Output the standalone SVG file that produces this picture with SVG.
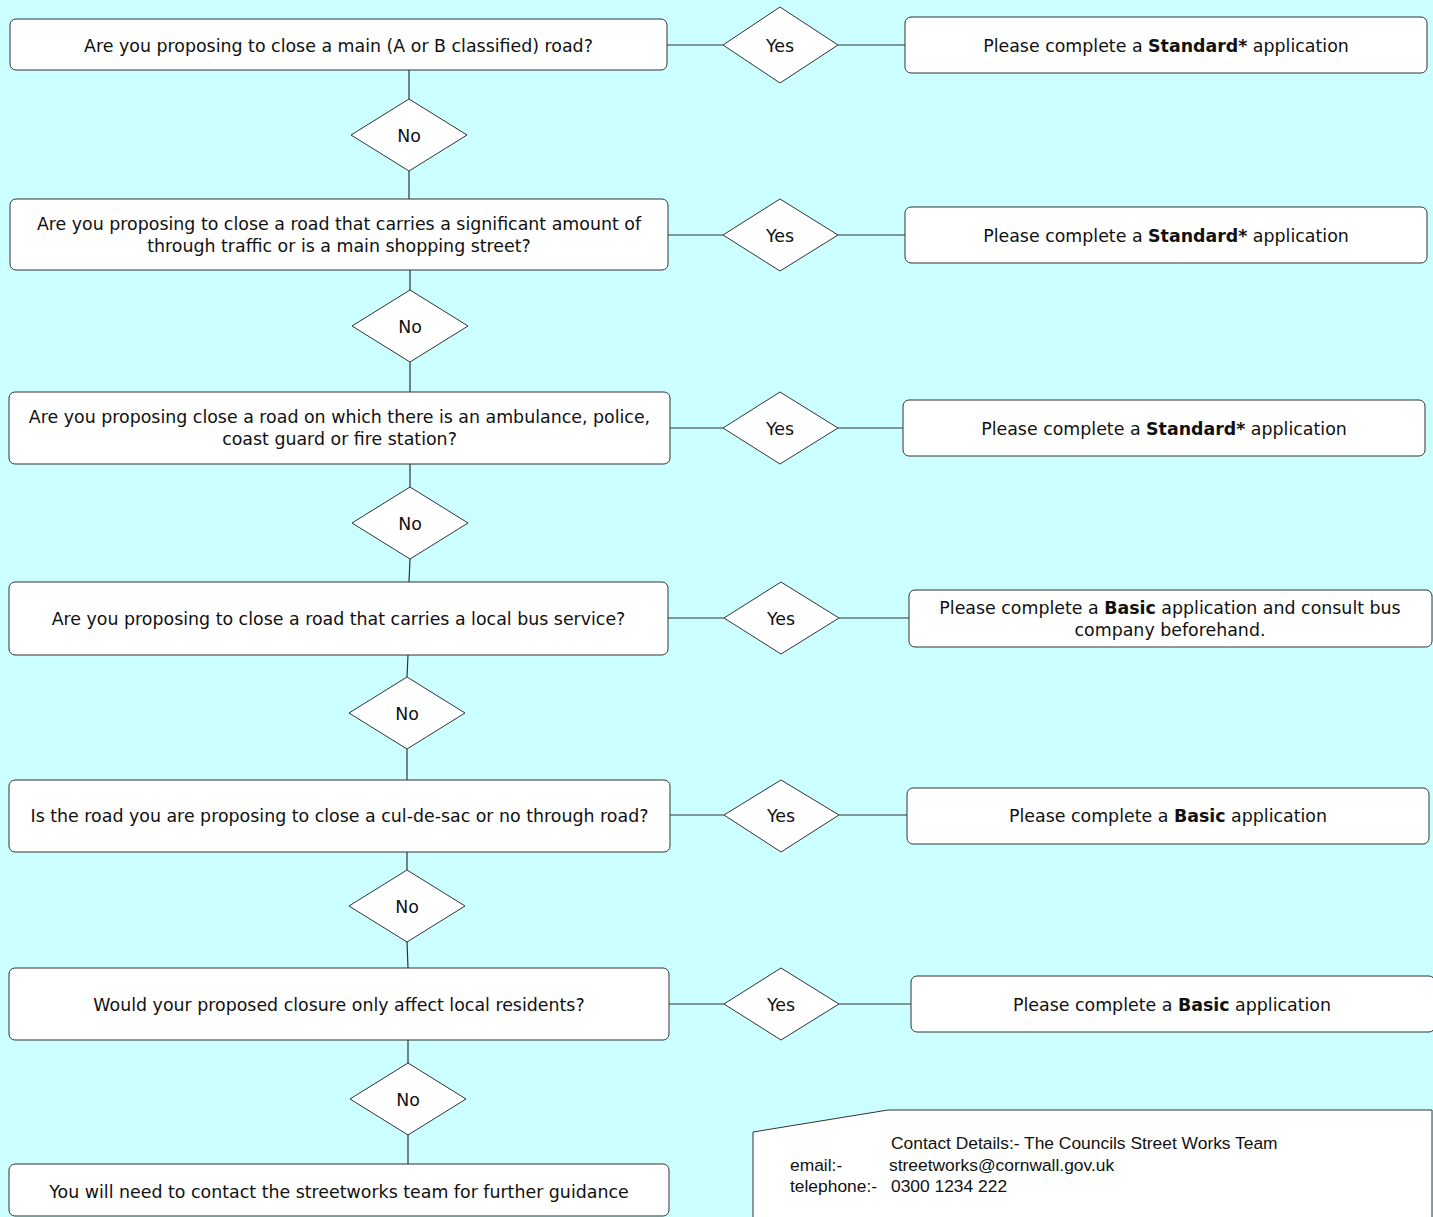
<svg xmlns="http://www.w3.org/2000/svg" width="1433" height="1217" viewBox="0 0 1433 1217">
<style>
.bg{fill:#CCFFFF}
.box{fill:#FFFFFF;stroke:#333333;stroke-width:1}
.dia{fill:#FFFFFF;stroke:#333333;stroke-width:1}
.ln{stroke:#333333;stroke-width:1.2;fill:none}
.t{font-family:"DejaVu Sans",Verdana,sans-serif;font-size:17.4px;fill:#111111;text-anchor:middle}
.b{font-weight:bold}
.c{font-family:"Liberation Sans",Arial,sans-serif;font-size:17.4px;fill:#111111}
</style>
<rect class="bg" x="0" y="0" width="1433" height="1217"/>
<g id="connectors">
<path class="ln" d="M667,45H723M838,45H905M409,70V99M409,171V199"/>
<path class="ln" d="M668,235H723M838,235H905M410,270V290M410,362V392"/>
<path class="ln" d="M670,428H723M838,428H903M410,464V487M410,559L409,582"/>
<path class="ln" d="M668,618H724M839,618H909M408,655L407,677M407,749V780"/>
<path class="ln" d="M670,815H724M839,815H907M407,852V870M407,942L408,968"/>
<path class="ln" d="M669,1004H724M839,1004H911M408,1040V1063M408,1135V1164"/>
</g>
<g id="q1"><rect class="box" x="10" y="19" width="657" height="51" rx="6"/><text class="t" x="338.5" y="52">Are you proposing to close a main (A or B classified) road?</text></g>
<g id="y1"><polygon class="dia" points="723,45 780,7 838,45 780,83"/><text class="t" x="780" y="52">Yes</text></g>
<g id="r1"><rect class="box" x="905" y="17" width="522" height="56" rx="6"/><text class="t" x="1166" y="52">Please complete a <tspan class="b">Standard*</tspan> application</text></g>
<g id="n1"><polygon class="dia" points="351,135 409,99 467,135 409,171"/><text class="t" x="409" y="142">No</text></g>

<g id="q2"><rect class="box" x="10" y="199" width="658" height="71" rx="6"/><text class="t" x="339" y="230">Are you proposing to close a road that carries a significant amount of</text><text class="t" x="339" y="252">through traffic or is a main shopping street?</text></g>
<g id="y2"><polygon class="dia" points="723,235 780,199 838,235 780,271"/><text class="t" x="780" y="242">Yes</text></g>
<g id="r2"><rect class="box" x="905" y="207" width="522" height="56" rx="6"/><text class="t" x="1166" y="242">Please complete a <tspan class="b">Standard*</tspan> application</text></g>
<g id="n2"><polygon class="dia" points="352,326 410,290 468,326 410,362"/><text class="t" x="410" y="333">No</text></g>

<g id="q3"><rect class="box" x="9" y="392" width="661" height="72" rx="6"/><text class="t" x="339.5" y="423">Are you proposing close a road on which there is an ambulance, police,</text><text class="t" x="339.5" y="445">coast guard or fire station?</text></g>
<g id="y3"><polygon class="dia" points="723,428 780,392 838,428 780,464"/><text class="t" x="780" y="435">Yes</text></g>
<g id="r3"><rect class="box" x="903" y="400" width="522" height="56" rx="6"/><text class="t" x="1164" y="435">Please complete a <tspan class="b">Standard*</tspan> application</text></g>
<g id="n3"><polygon class="dia" points="352,523 410,487 468,523 410,559"/><text class="t" x="410" y="530">No</text></g>

<g id="q4"><rect class="box" x="9" y="582" width="659" height="73" rx="6"/><text class="t" x="338.5" y="625">Are you proposing to close a road that carries a local bus service?</text></g>
<g id="y4"><polygon class="dia" points="724,618 781,582 839,618 781,654"/><text class="t" x="781" y="625">Yes</text></g>
<g id="r4"><rect class="box" x="909" y="590" width="523" height="57" rx="6"/><text class="t" x="1170" y="614">Please complete a <tspan class="b">Basic</tspan> application and consult bus</text><text class="t" x="1170" y="636">company beforehand.</text></g>
<g id="n4"><polygon class="dia" points="349,713 407,677 465,713 407,749"/><text class="t" x="407" y="720">No</text></g>

<g id="q5"><rect class="box" x="9" y="780" width="661" height="72" rx="6"/><text class="t" x="339.5" y="822">Is the road you are proposing to close a cul-de-sac or no through road?</text></g>
<g id="y5"><polygon class="dia" points="724,815 781,780 839,815 781,852"/><text class="t" x="781" y="822">Yes</text></g>
<g id="r5"><rect class="box" x="907" y="788" width="522" height="56" rx="6"/><text class="t" x="1168" y="822">Please complete a <tspan class="b">Basic</tspan> application</text></g>
<g id="n5"><polygon class="dia" points="349,906 407,870 465,906 407,942"/><text class="t" x="407" y="913">No</text></g>

<g id="q6"><rect class="box" x="9" y="968" width="660" height="72" rx="6"/><text class="t" x="339" y="1011">Would your proposed closure only affect local residents?</text></g>
<g id="y6"><polygon class="dia" points="724,1004 781,968 839,1004 781,1040"/><text class="t" x="781" y="1011">Yes</text></g>
<g id="r6"><rect class="box" x="911" y="976" width="524" height="56" rx="6"/><text class="t" x="1172" y="1011">Please complete a <tspan class="b">Basic</tspan> application</text></g>
<g id="n6"><polygon class="dia" points="350,1099 408,1063 466,1099 408,1135"/><text class="t" x="408" y="1106">No</text></g>

<g id="final"><rect class="box" x="9" y="1164" width="660" height="52" rx="6"/><text class="t" x="339" y="1198">You will need to contact the streetworks team for further guidance</text></g>

<g id="contact">
<polygon class="box" points="753,1132 888,1110 1432,1110 1432,1230 753,1230"/>
<text class="c" x="891" y="1149">Contact Details:- The Councils Street Works Team</text>
<text class="c" x="790" y="1171">email:-</text>
<text class="c" x="889" y="1171">streetworks@cornwall.gov.uk</text>
<text class="c" x="790" y="1192">telephone:-</text>
<text class="c" x="891" y="1192">0300 1234 222</text>
</g>
</svg>
